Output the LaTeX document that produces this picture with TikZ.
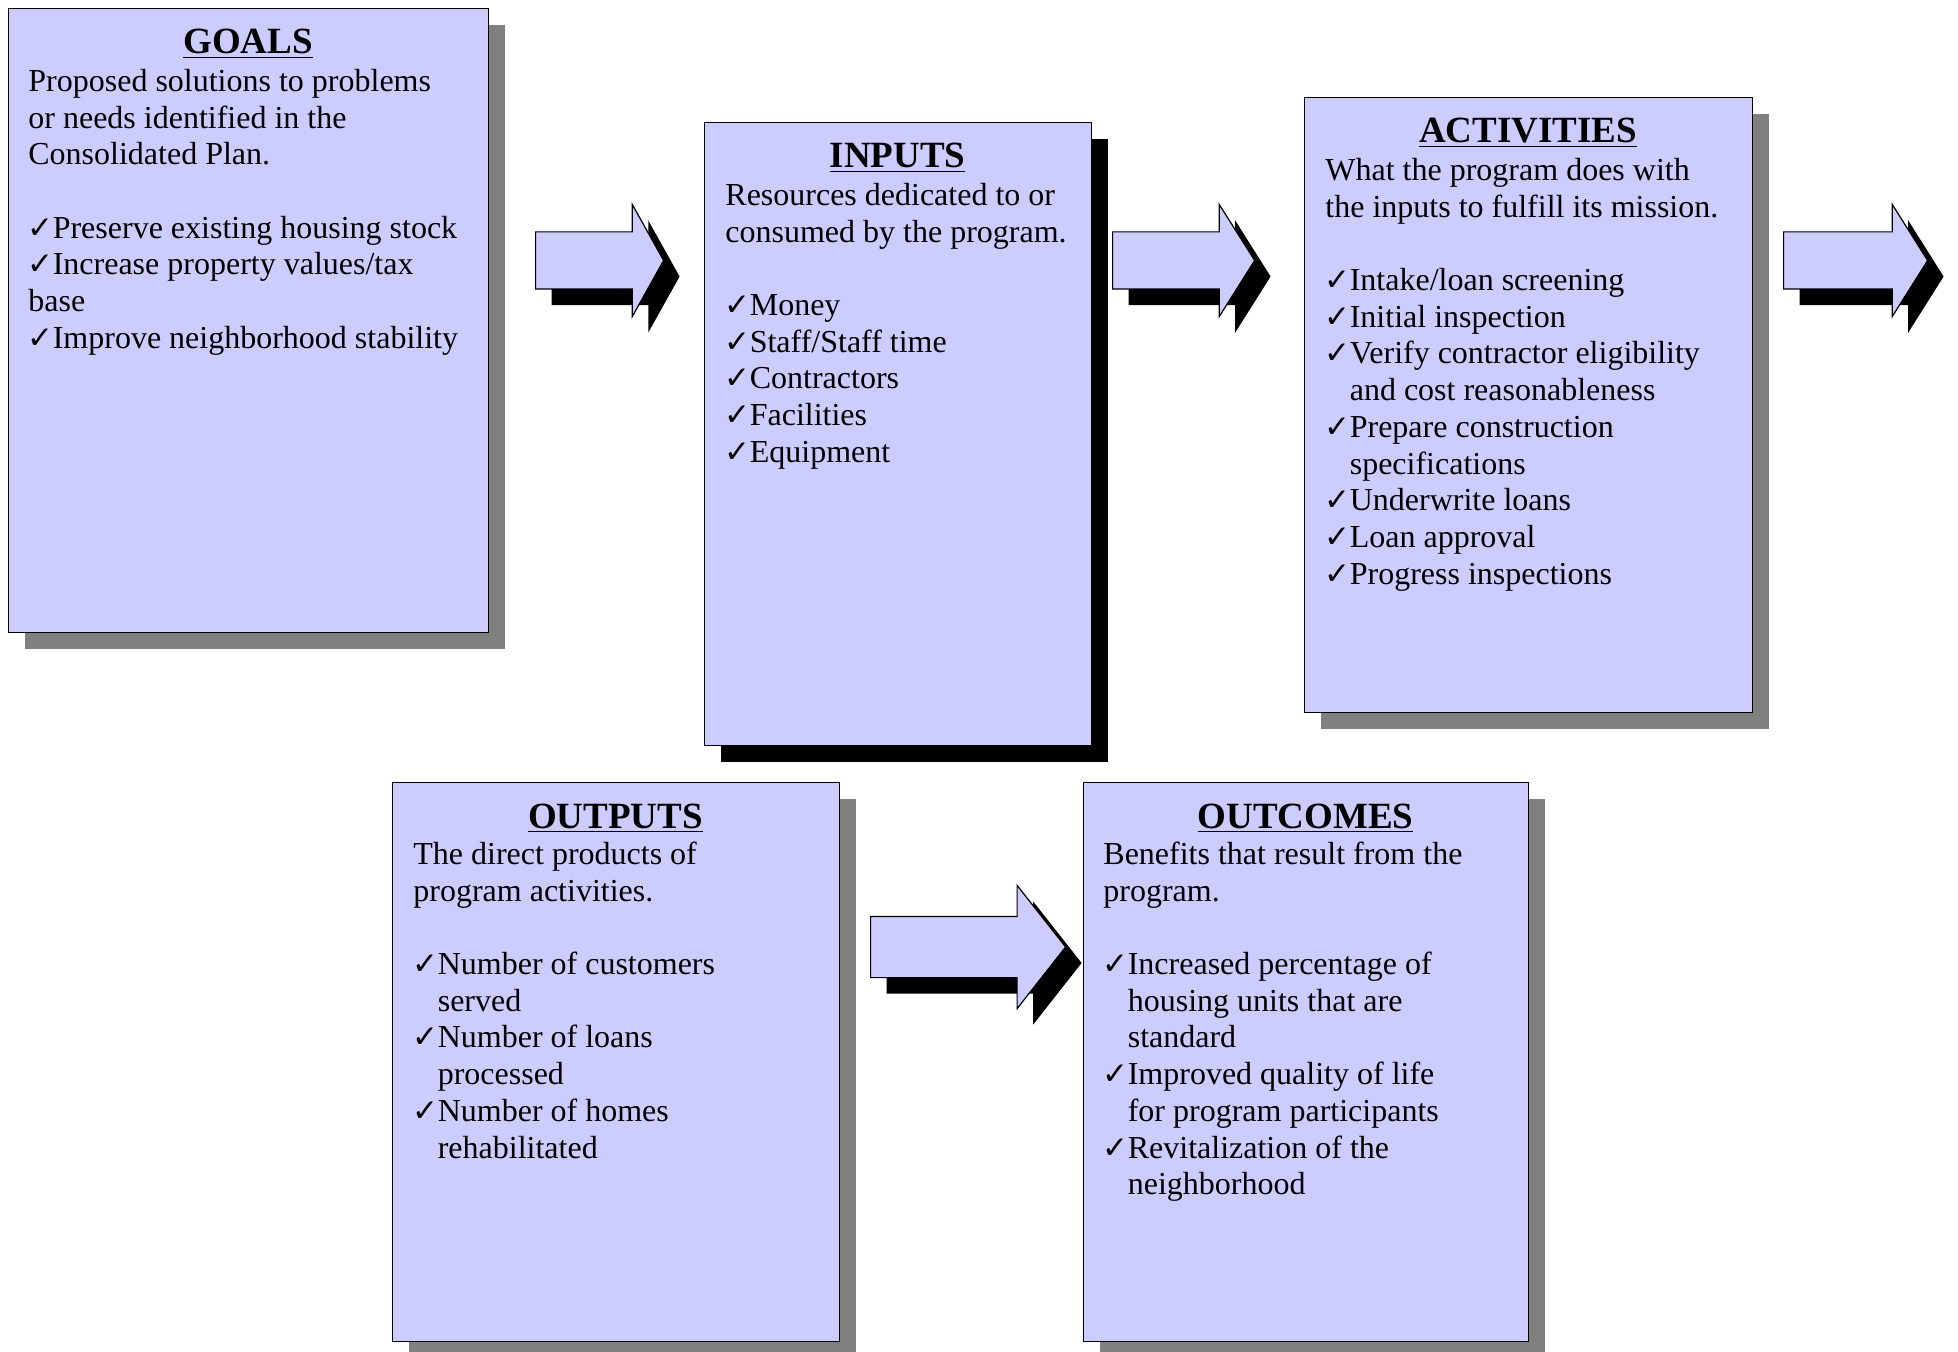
\documentclass[tikz,border=0pt]{standalone}
\usepackage{fontspec}
\setmainfont{Liberation Serif}
\newfontfamily\symfont{DejaVu Sans}
\usetikzlibrary{shapes.arrows,shadows}

\definecolor{boxfill}{HTML}{CCCCFF}
\definecolor{shadowgray}{HTML}{808080}

\newcommand{\chk}{\makebox[12.2pt][l]{\hspace*{-0.6pt}\resizebox{13pt}{!}{\symfont\bfseries ✓}}}
\newcommand{\ind}{\hspace*{12.2pt}}

\begin{document}
\begin{tikzpicture}[x=0.5pt,y=-0.5pt,
  box/.style={draw,line width=0.7pt,fill=boxfill,anchor=north west,inner sep=0pt,
    drop shadow={shadow xshift=8pt,shadow yshift=-8pt,fill=shadowgray,opacity=1}},
  darkbox/.style={box,drop shadow={shadow xshift=8pt,shadow yshift=-8pt,fill=black,opacity=1}},
  title/.style={anchor=base,inner sep=0pt,font=\fontsize{18.5}{21}\selectfont\bfseries},
  body/.style={anchor=north west,inner sep=0pt,align=left,font=\fontsize{16}{18.35}\selectfont},
  blockarrow/.style={single arrow,draw,line width=0.6pt,fill=boxfill,inner xsep=0pt,anchor=tail,
    single arrow head indent=0pt,
    drop shadow={shadow xshift=8pt,shadow yshift=-8pt,fill=black,opacity=1}}]

\useasboundingbox (0,0) rectangle (1958,1352);

%GOALS
\node[box,minimum width=240pt,minimum height=312pt] (goals) at (8,8) {};
\node[title] (goals-t) at (248,54) {\underline{GOALS}};
\node[body] (goals-b) at (28,65) {\rule{0pt}{13pt}Proposed solutions to problems\\
or needs identified in the\\
Consolidated Plan.\\[18.35pt]
\chk Preserve existing housing stock\\
\chk Increase property values/tax\\
base\\
\chk Improve neighborhood stability};

%INPUTS
\node[darkbox,minimum width=193.5pt,minimum height=311.5pt] (inputs) at (704,122) {};
\node[title] (inputs-t) at (897.5,168) {\underline{INPUTS}};
\node[body] (inputs-b) at (725,179) {\rule{0pt}{13pt}Resources dedicated to or\\
consumed by the program.\\[18.35pt]
\chk Money\\
\chk Staff/Staff time\\
\chk Contractors\\
\chk Facilities\\
\chk Equipment};

%ACTIVITIES
\node[box,minimum width=224pt,minimum height=307.5pt] (activities) at (1304,97) {};
\node[title] (activities-t) at (1528,143) {\underline{ACTIVITIES}};
\node[body] (activities-b) at (1325,154) {\rule{0pt}{13pt}What the program does with\\
the inputs to fulfill its mission.\\[18.35pt]
\chk Intake/loan screening\\
\chk Initial inspection\\
\chk Verify contractor eligibility\\
\ind and cost reasonableness\\
\chk Prepare construction\\
\ind specifications\\
\chk Underwrite loans\\
\chk Loan approval\\
\chk Progress inspections};

%OUTPUTS
\node[box,minimum width=223.5pt,minimum height=279.5pt] (outputs) at (392,782) {};
\node[title] (outputs-t) at (615.5,828) {\underline{OUTPUTS}};
\node[body] (outputs-b) at (413,838) {\rule{0pt}{13pt}The direct products of\\
program activities.\\[18.35pt]
\chk Number of customers\\
\ind served\\
\chk Number of loans\\
\ind processed\\
\chk Number of homes\\
\ind rehabilitated};

%OUTCOMES
\node[box,minimum width=222.5pt,minimum height=279.5pt] (outcomes) at (1083,782) {};
\node[title] (outcomes-t) at (1305.5,828) {\underline{OUTCOMES}};
\node[body] (outcomes-b) at (1103,838) {\rule{0pt}{13pt}Benefits that result from the\\
program.\\[18.35pt]
\chk Increased percentage of\\
\ind housing units that are\\
\ind standard\\
\chk Improved quality of life\\
\ind for program participants\\
\chk Revitalization of the\\
\ind neighborhood};

%arrows
\node[blockarrow,inner ysep=14pt,minimum height=64pt,minimum width=55.5pt,
  single arrow head extend=13.75pt,single arrow tip angle=121.6] (arr1) at (535,260.5) {};
\node[blockarrow,inner ysep=14pt,minimum height=71pt,minimum width=55.5pt,
  single arrow head extend=13.75pt,single arrow tip angle=115.5] (arr2) at (1112,260.5) {};
\node[blockarrow,inner ysep=14pt,minimum height=72pt,minimum width=55.5pt,
  single arrow head extend=13.75pt,single arrow tip angle=115.5] (arr3) at (1783,260.5) {};
\node[blockarrow,inner ysep=15pt,minimum height=97.5pt,minimum width=61pt,
  single arrow head extend=15.5pt,single arrow tip angle=103.6] (arr4) at (870,947) {};

\end{tikzpicture}
\end{document}
